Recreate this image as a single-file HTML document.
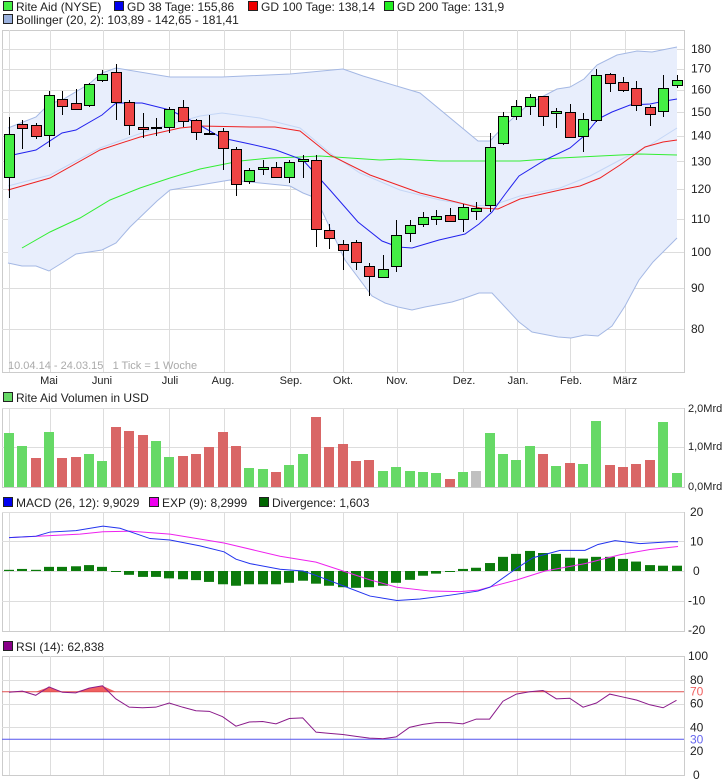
<!DOCTYPE html>
<html><head><meta charset="utf-8"><style>
body{margin:0;background:#fff;width:726px;height:784px;overflow:hidden}
svg{display:block;font-family:"Liberation Sans",sans-serif}
</style></head><body>
<svg id="s" width="726" height="784" xmlns="http://www.w3.org/2000/svg"></svg>
<script>
const S=document.getElementById('s');let h='';
function add(x){h+=x;}
function pl(pts,c,w){add(`<polyline fill="none" stroke="${c}" stroke-width="${w||1}" points="${pts.map(p=>p.join(',')).join(' ')}"/>`);}
function txt(x,y,t,o){o=o||{};add(`<text x="${x}" y="${y}" font-size="${o.s||12}" fill="${o.c||'#222'}" ${o.a?'text-anchor="'+o.a+'"':''}>${t}</text>`);}
function leg(x,y,c,t){add(`<rect x="${x+0.5}" y="${y-9.5}" width="9" height="9" fill="${c}" stroke="#222"/>`);txt(x+13,y,t);}
const L=2,R=684;
const vg=[9,50,103,169,224,290,343,397,463,517,570,625];
function panel(t,b,hy){add(`<rect x="${L+0.5}" y="${t+0.5}" width="${R-L}" height="${b-t}" fill="#fff" stroke="#ccc"/>`);}
function grid(t,b,hy){vg.forEach(x=>add(`<line x1="${x+.5}" x2="${x+.5}" y1="${t}" y2="${b}" stroke="#ddd"/>`));hy.forEach(y=>add(`<line x1="${L}" x2="${R}" y1="${y+.5}" y2="${y+.5}" stroke="#ddd"/>`));}
// legends
leg(3,11,'#44ee44','Rite Aid (NYSE)');leg(114,11,'#0000ee','GD 38 Tage: 155,86');leg(248,11,'#ee0000','GD 100 Tage: 138,14');leg(384,11,'#22ee22','GD 200 Tage: 131,9');
leg(3,24,'#9ab0dd','Bollinger (20, 2): 103,89 - 142,65 - 181,41');
// main
const py=v=>49+Math.log(180/v)*345;
panel(30,372);
const ticks=[180,170,160,150,140,130,120,110,100,90,80];
grid(30,372,ticks.map(v=>Math.round(py(v))));
ticks.forEach(v=>txt(691,py(v)+4,v));
const up=[[8,128],[36,117],[49,104],[62,100],[89,84],[102,73],[116,68],[170,77],[222,77],[290,74],[343,69],[363,76],[420,93],[478,141],[490,141],[503,127],[530,103],[557,89],[570,87],[584,79],[597,65],[617,55],[637,51],[652,52],[677,47]];
const lo=[[8,263],[22,266],[36,266],[49,271],[62,263],[76,254],[102,250],[116,243],[130,227],[157,201],[170,190],[200,185],[230,180],[260,183],[290,186],[303,193],[316,198],[345,260],[372,296],[385,303],[398,307],[412,310],[425,307],[452,302],[465,298],[479,293],[492,293],[519,322],[532,332],[558,337],[571,338],[585,335],[598,336],[612,326],[625,306],[639,280],[653,262],[677,238]];
add(`<polygon fill="#e8eefc" points="${up.concat(lo.slice().reverse()).map(p=>p.join(',')).join(' ')}"/>`);
pl(up,'#a4b8e4');pl(lo,'#a4b8e4');
pl([[8,186],[50,175],[100,148],[150,130],[200,116],[222,113],[260,118],[300,128],[330,153],[360,173],[400,190],[440,200],[470,205],[490,206],[520,196],[560,188],[590,176],[620,160],[650,145],[677,128]],'#c4d6f6');
pl([[22,248],[50,232],[80,218],[110,200],[140,188],[170,178],[200,169],[240,161],[270,158],[300,157],[320,156],[350,158],[380,160],[400,159],[440,161],[480,161],[520,161],[560,158],[600,156],[640,154],[677,155]],'#33ee33');
pl([[8,190],[50,178],[100,150],[140,137],[180,128],[200,126],[250,127],[275,127],[300,131],[330,155],[370,175],[420,193],[460,203],[480,208],[498,209],[520,199],[560,190],[580,186],[600,178],[620,165],[645,147],[663,142],[677,140]],'#ee2222');
pl([[8,156],[36,150],[62,133],[76,130],[102,115],[116,103],[142,103],[170,110],[196,123],[222,138],[250,144],[276,150],[303,160],[330,190],[358,222],[382,241],[398,247],[412,248],[439,240],[465,234],[479,224],[492,212],[506,193],[519,176],[545,160],[570,148],[584,136],[598,119],[612,112],[630,105],[650,104],[665,101],[677,99]],'#2222ee');
// candles [bodyTop,bodyBot,wickTop,wickBot,green]
const C=[[134,177,117,198,1],[124,128,120,149,0],[125,136,123,139,0],[95,135,91,147,1],[99,106,91,115,0],[103,109,89,110,0],[84,105,83,107,1],[74,80,70,82,1],[72,102,64,120,0],[102,125,100,135,0],[127,129,113,138,0],[127,128,118,136,2],[109,127,107,133,1],[107,121,100,127,0],[120,132,119,140,0],[133,134,115,135,2],[131,148,128,170,0],[149,184,147,196,0],[170,181,168,184,1],[167,169,160,175,1],[167,177,162,177,0],[162,177,160,183,1],[159,161,155,178,1],[160,229,155,247,0],[230,238,224,249,0],[244,250,240,270,0],[242,262,240,270,0],[266,276,263,296,0],[269,277,255,278,1],[235,266,220,272,1],[225,233,220,242,1],[217,224,212,227,1],[216,219,210,225,1],[215,221,208,222,0],[207,219,204,232,1],[208,211,202,220,1],[147,205,133,212,1],[116,143,112,145,1],[106,116,100,120,1],[97,106,94,115,1],[96,116,96,126,0],[111,113,108,128,1],[112,137,104,137,0],[119,136,113,152,1],[75,120,69,122,1],[74,83,73,92,0],[82,90,77,92,0],[88,105,81,111,0],[107,114,105,126,0],[88,111,75,117,1],[80,85,75,88,1]];
C.forEach((c,i)=>{const x=Math.round(9+13.35*i);add(`<line x1="${x+.5}" x2="${x+.5}" y1="${c[2]}" y2="${c[3]}" stroke="#000"/>`);
const f=c[4]==1?'#44ee44':c[4]==0?'#ee4444':'#888';add(`<rect x="${x-4.5}" y="${c[0]+.5}" width="10" height="${Math.max(1,c[1]-c[0])}" fill="${f}" stroke="#000"/>`);});
txt(8,369,'10.04.14 - 24.03.15 &#160; 1 Tick = 1 Woche',{c:'#aaa',s:11});
[['Mai',49],['Juni',102],['Juli',170],['Aug.',223],['Sep.',291],['Okt.',343],['Nov.',397],['Dez.',464],['Jan.',518],['Feb.',571],['März',625]].forEach(m=>txt(m[1],384,m[0],{a:'middle',s:11}));
// volume
leg(3,402,'#66d966','Rite Aid Volumen in USD');
panel(408,487);grid(408,487,[408,447]);
add(`<line x1="${L}" x2="${R}" y1="487.5" y2="487.5" stroke="#ccc"/>`);
txt(688,412,'2,0Mrd',{s:11});txt(688,450,'1,0Mrd',{s:11});txt(688,490,'0,0Mrd',{s:11});
const V=[[433,1],[446,1],[458,0],[432,1],[458,0],[457,0],[454,1],[461,1],[427,0],[431,0],[435,0],[441,1],[457,1],[456,0],[454,0],[447,0],[432,0],[446,0],[468,1],[469,1],[472,0],[465,1],[454,1],[417,0],[447,0],[444,0],[461,0],[460,0],[471,1],[467,1],[471,1],[472,1],[473,1],[479,0],[472,1],[471,2],[433,1],[454,1],[460,1],[446,1],[454,0],[466,1],[463,0],[464,1],[421,1],[465,0],[467,0],[464,0],[460,0],[422,1],[473,1]];
V.forEach((v,i)=>{const x=Math.round(9+13.35*i);add(`<rect x="${x-5}" y="${v[0]}" width="10" height="${487-v[0]}" fill="${v[1]==1?'#66d966':v[1]==0?'#d96666':'#c0c0c0'}"/>`);});
// MACD
leg(3,507,'#0000ee','MACD (26, 12): 9,9029');leg(149,507,'#ee00ee','EXP (9): 8,2999');leg(259,507,'#006600','Divergence: 1,603');
panel(512,631);grid(512,631,[512,541,571,601]);
const my=v=>571-v*2.95;
[20,10,0,-10,-20].forEach(v=>txt(v<0?688:(v==0?693:690),my(v)+4,v));
const D=[0.4,0.7,0.4,1.4,1.4,1.6,2.0,1.4,-0.2,-1.3,-2,-2,-2.5,-2.8,-3.1,-3.7,-4.5,-5,-4.5,-4.5,-4.5,-4,-3.3,-4.3,-5,-5.5,-5.7,-5.5,-5,-4,-3,-1.6,-0.9,-0.2,0.7,1.1,2.7,4.8,5.8,6.8,6.1,5.8,4.5,4.2,4.8,4.8,4.1,3.2,2.0,1.8,1.8];
D.forEach((d,i)=>{const x=Math.round(9+13.35*i);const y1=Math.min(my(d),571),y2=Math.max(my(d),571);add(`<rect x="${x-5}" y="${y1}" width="10" height="${Math.max(1,y2-y1)}" fill="#0b7a0b"/>`);});
pl([[9,11.3],[50,12],[80,12.5],[103,13.3],[130,13.5],[170,12.5],[224,9.5],[280,5],[316,3],[343,0],[370,-3],[397,-5.5],[430,-6.8],[460,-7],[478,-6.5],[517,-3],[545,0],[585,2.5],[620,5.5],[650,7.3],[678,8.3]].map(p=>[p[0],my(p[1])]),'#ee22ee');
pl([[9,11.3],[36,11.8],[50,13.2],[76,13.7],[103,15.2],[120,14.5],[150,11],[170,10.5],[200,8.5],[224,6.5],[236,4],[250,2.5],[280,0.6],[303,0],[316,-1.5],[343,-5],[370,-8.5],[397,-10],[420,-9.5],[450,-8.2],[478,-6.8],[490,-5.5],[517,1],[533,4.5],[560,7],[585,7],[598,9],[615,10.3],[640,9.3],[670,9.9],[678,9.9]].map(p=>[p[0],my(p[1])]),'#2233ee');
// RSI
leg(3,651,'#880088','RSI (14): 62,838');
const ry=v=>775-v*1.19;
panel(656,775);grid(656,775,[80,60,40,20].map(v=>Math.round(ry(v))));
const RS=[69.5,70.5,67,74,69.5,69,73,75,64,57,56.5,57,60.5,57,54,53.5,49,41,44.5,45,43,47.5,48,36,35,34,32.5,31,30.5,32,40,42.5,44,44,43,47,47,62,68,70,71,64,64.5,57,60.5,68,65.5,63,59,56.5,62.8];
const rp=RS.map((v,i)=>[9+13.35*i,v]);
// fill above 70
let fp=[];rp.forEach(p=>fp.push([p[0],ry(Math.max(70,p[1]))]));
add(`<polygon fill="#f06060" points="${[[9,ry(70)]].concat(fp,[[677,ry(70)]]).map(p=>p.join(',')).join(' ')}"/>`);
add(`<line x1="${L}" x2="${R}" y1="${ry(70)}" y2="${ry(70)}" stroke="#e05050"/>`);
add(`<line x1="${L}" x2="${R}" y1="${ry(30)}" y2="${ry(30)}" stroke="#5555ee"/>`);
pl(rp.map(p=>[p[0],ry(p[1])]),'#8a1a8a');
[[100,'#222'],[80,'#222'],[60,'#222'],[40,'#222'],[20,'#222'],[0,'#222']].forEach(a=>txt(a[0]==0?693:(a[0]==100?688:690),ry(a[0])+4,a[0]));
txt(690,ry(70)+4,'70',{c:'#f06060'});txt(690,ry(30)+4,'30',{c:'#6666ee'});
S.innerHTML=h;
</script>
</body></html>
